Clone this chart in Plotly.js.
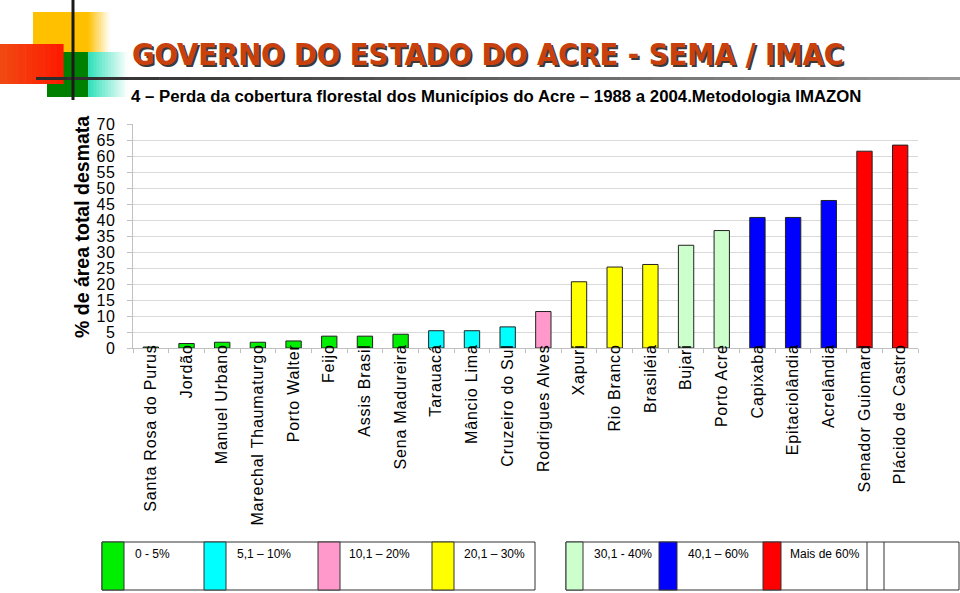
<!DOCTYPE html>
<html><head><meta charset="utf-8">
<script src="https://cdn.plot.ly/plotly-3.0.1.min.js"></script>
<style>
html,body{margin:0;padding:0;background:#fff;}
#chart{width:960px;height:593px;}
.xtick text, .ytick text {letter-spacing:0.8px;}
text.annotation-text[data-unformatted*="GOVERNO"]{text-shadow:2px 2px 0 #3a3a3a;}
</style></head><body><div id="chart"></div>
<script>
// ---- data ----
const municipalities = ["Santa Rosa do Purus","Jordão","Manuel Urbano","Marechal Thaumaturgo","Porto Walter","Feijo","Assis Brasil","Sena Madureira","Tarauacá","Mâncio Lima","Cruzeiro do Sul","Rodrigues Alves","Xapuri","Rio Branco","Brasiléia","Bujari","Porto Acre","Capixaba","Epitaciolândia","Acrelândia","Senador Guiomard","Plácido de Castro"];
const deforestedPct = [0.3,1.4,1.8,1.8,2.2,3.7,3.7,4.3,5.4,5.4,6.6,11.4,20.7,25.3,26.1,32.1,36.7,40.8,40.8,46.1,61.5,63.4];
const classIndex = [0,0,0,0,0,0,0,0,1,1,1,2,3,3,3,4,4,5,5,5,6,6];
const classLabels = ["0 - 5%","5,1 – 10%","10,1 – 20%","20,1 – 30%","30,1 - 40%","40,1 – 60%","Mais de 60%"];
const classColors = ["#00EE00","#00FFFF","#FF99CC","#FFFF00","#CCFFCC","#0000FF","#FF0000"];
const yTicks = [0,5,10,15,20,25,30,35,40,45,50,55,60,65,70];

const titleText = "GOVERNO DO ESTADO DO ACRE - SEMA / IMAC";
const subtitleText = "4 – Perda da cobertura florestal dos Municípios do Acre – 1988 a 2004.Metodologia IMAZON";
const yTitleText = "% de área total desmata";

// ---- layout geometry (pixels) ----
const W = 960, H = 593;
const M = {l:133, r:42, t:124, b:245};
const PW = W - M.l - M.r, PH = H - M.t - M.b;
const px = x => (x - M.l) / PW;
const py = y => (H - M.b - y) / PH;

const shapes = [];
const annotations = [];

function rect(x0,x1,y0,y1,fill,line){
  shapes.push({type:'rect',xref:'paper',yref:'paper',x0:px(x0),x1:px(x1),y0:py(y1),y1:py(y0),
    fillcolor:fill,line:line||{width:0}});
}
function hexToRgb(h){h=h.replace('#','');return [parseInt(h.substr(0,2),16),parseInt(h.substr(2,2),16),parseInt(h.substr(4,2),16)];}
function gradRect(x0,x1,y0,y1,c0,c1,n){
  const a=hexToRgb(c0), b=hexToRgb(c1);
  const w=(x1-x0)/n;
  for(let i=0;i<n;i++){
    const t=(i+0.5)/n;
    const c=a.map((v,k)=>Math.round(v+(b[k]-v)*t));
    rect(x0+i*w, x0+(i+1)*w+0.6, y0, y1, 'rgb('+c.join(',')+')');
  }
}
function line(x0,y0,x1,y1,color,width){
  shapes.push({type:'line',xref:'paper',yref:'paper',x0:px(x0),x1:px(x1),y0:py(y0),y1:py(y1),
    line:{color:color,width:width}});
}

// decorative logo blocks
rect(33,88,12,52,'#FFC000');
gradRect(88,110,12,52,'#FFC000','#FFFFFF',12);
rect(47,88,52,97,'#008000');
gradRect(88,128,52,97,'#2EE0B8','#FFFFFF',14);
gradRect(0,63,44,84,'#F04A12','#FF1A00',10);
// horizontal rule
gradRect(36,960,77,80,'#2A2A2A','#9A9A9A',30);
line(73,0,73,100,'#1a1a1a',3);

// titles
annotations.push({xref:'paper',yref:'paper',x:px(130),y:py(54),xanchor:'left',yanchor:'middle',showarrow:false,
  text:'<b>'+titleText+'</b>',font:{family:'DejaVu Sans Condensed, DejaVu Sans',size:30.5,color:'#C8400C'}});
annotations.push({xref:'paper',yref:'paper',x:px(129),y:py(96),xanchor:'left',yanchor:'middle',showarrow:false,
  text:'<b>'+subtitleText+'</b>',font:{family:'Liberation Sans Narrow, Liberation Sans, Arial',size:16.8,color:'#000'}});
annotations.push({xref:'paper',yref:'paper',x:px(82),y:py(227),xanchor:'center',yanchor:'middle',showarrow:false,
  textangle:-90,text:'<b>'+yTitleText+'</b>',font:{family:'Liberation Sans, Arial',size:19.5,color:'#000'}});

// legend boxes
const legendBoxes = [{x0:102,x1:535},{x0:566,x1:959}];
const swatchX = [[102,124],[204,226],[318,340],[432,454],[566,583],[659,677],[763,781]];
const textX = [133,235,347,462,592,686,788];
const LY0 = 542, LY1 = 590;
legendBoxes.forEach(b=>rect(b.x0,b.x1,LY0,LY1,'rgba(0,0,0,0)',{color:'#333',width:1}));
classLabels.forEach((lab,i)=>{
  rect(swatchX[i][0],swatchX[i][1],LY0,LY1,classColors[i],{color:'#333',width:1});
  annotations.push({xref:'paper',yref:'paper',x:px(textX[i]),y:py(554),xanchor:'left',yanchor:'middle',showarrow:false,
    text:lab,font:{family:'Liberation Sans, Arial',size:12,color:'#000'}});
});
line(867,LY0,867,LY1,'#333',1);
line(884,LY0,884,LY1,'#333',1);

const trace = {
  type:'bar',
  x: municipalities,
  y: deforestedPct,
  marker:{color: classIndex.map(i=>classColors[i]), line:{color:'#222',width:1}},
  hoverinfo:'x+y'
};

const layout = {
  width:W, height:H,
  margin:M,
  paper_bgcolor:'#fff', plot_bgcolor:'#fff',
  bargap:0.57,
  showlegend:false,
  xaxis:{
    type:'category', tickangle:-90, tickson:'boundaries',
    ticks:'outside', ticklen:4, tickcolor:'#c0c0c0',
    showline:true, linecolor:'#c0c0c0', linewidth:1,
    showgrid:false, ticklabelstandoff:-11,
    tickfont:{family:'Liberation Sans, Arial',size:16,color:'#000'},
    range:[-0.5, municipalities.length-0.5], fixedrange:true
  },
  yaxis:{
    range:[0,70], tickvals:yTicks, ticktext:yTicks.map(String),
    ticks:'outside', ticklen:5, tickcolor:'#c0c0c0',
    showline:true, linecolor:'#c0c0c0', linewidth:1,
    showgrid:true, gridcolor:'#d9d9d9', gridwidth:1, zeroline:false,
    ticklabelstandoff:8,
    tickfont:{family:'Liberation Sans, Arial',size:16,color:'#000'},
    fixedrange:true
  },
  shapes:shapes,
  annotations:annotations
};

Plotly.newPlot('chart',[trace],layout,{displayModeBar:false,staticPlot:true});
</script></body></html>
